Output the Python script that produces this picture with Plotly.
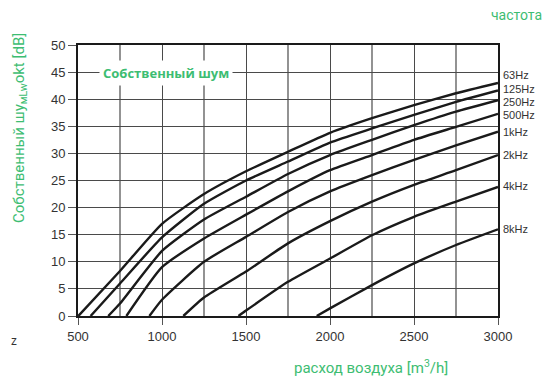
import plotly.graph_objects as go

# data: airflow [m3/h] vs own noise [dB] per octave band
bands = ["63Hz", "125Hz", "250Hz", "500Hz", "1kHz", "2kHz", "4kHz", "8kHz"]
x_63 = [502, 750, 1000, 1250, 1500, 1750, 2000, 2250, 2500, 2750, 3000]
y_63 = [0, 8.3, 17.0, 22.5, 26.7, 30.3, 33.8, 36.5, 38.9, 41.1, 43.0]
x_125 = [575, 750, 1000, 1250, 1500, 1750, 2000, 2250, 2500, 2750, 3000]
y_125 = [0, 6.0, 14.5, 20.7, 25.0, 28.5, 32.0, 34.6, 37.1, 39.5, 41.6]
x_250 = [680, 750, 1000, 1250, 1500, 1750, 2000, 2250, 2500, 2750, 3000]
y_250 = [0, 2.3, 12.0, 17.8, 22.0, 26.2, 29.7, 32.5, 35.2, 37.7, 39.8]
x_500 = [788, 1000, 1250, 1500, 1750, 2000, 2250, 2500, 2750, 3000]
y_500 = [0, 9.0, 14.3, 18.7, 23.0, 26.9, 29.7, 32.5, 34.9, 37.3]
x_1k = [925, 1000, 1250, 1500, 1750, 2000, 2250, 2500, 2750, 3000]
y_1k = [0, 3.0, 10.0, 14.6, 19.2, 23.0, 26.0, 28.8, 31.5, 34.0]
x_2k = [1127, 1250, 1500, 1750, 2000, 2250, 2500, 2750, 3000]
y_2k = [0, 3.4, 8.2, 13.4, 17.5, 21.1, 24.2, 26.9, 29.7]
x_4k = [1455, 1500, 1750, 2000, 2250, 2500, 2750, 3000]
y_4k = [0, 1.0, 6.3, 10.6, 14.9, 18.3, 21.1, 23.8]
x_8k = [1921, 2000, 2250, 2500, 2750, 3000]
y_8k = [0, 1.4, 5.7, 9.7, 13.1, 16.0]
label_y = [44.5, 41.9, 39.5, 37.1, 33.9, 29.7, 24.0, 16.1]

x_ticks = [500, 1000, 1500, 2000, 2500, 3000]
x_grid = [750, 1250, 1750, 2250, 2750]
y_ticks = [0, 5, 10, 15, 20, 25, 30, 35, 40, 45, 50]

series = [(x_63, y_63), (x_125, y_125), (x_250, y_250), (x_500, y_500),
          (x_1k, y_1k), (x_2k, y_2k), (x_4k, y_4k), (x_8k, y_8k)]

GREEN = "#3dbd72"
fig = go.Figure()
for name, (xs, ys) in zip(bands, series):
    fig.add_trace(go.Scatter(x=xs, y=ys, mode="lines", name=name,
                             line=dict(color="#1a1a1a", width=2.4, shape="spline", smoothing=0.5),
                             showlegend=False, hoverinfo="skip"))

for name, ly in zip(bands, label_y):
    fig.add_annotation(x=3000, y=ly, xref="x", yref="y", text=name, showarrow=False,
                       xanchor="left", yanchor="middle", xshift=3,
                       font=dict(family="Liberation Sans", size=11, color="#333"))

for xv in x_grid:
    fig.add_shape(type="line", x0=xv, x1=xv, y0=0, y1=50, xref="x", yref="y",
                  line=dict(color="#4a4a4a", width=1.2), layer="below")

fig.add_annotation(x=0.05, y=0.897, xref="paper", yref="paper", text="<b>Собственный шум</b>",
                   showarrow=False, xanchor="left", yanchor="middle", bgcolor="white",
                   borderpad=3, font=dict(family="Open Sans", size=13, color=GREEN))
fig.add_annotation(x=-0.138, y=0.694, xref="paper", yref="paper",
                   text="Собственный шу<sub>мLw</sub>okt [dB]", textangle=-90, showarrow=False,
                   xanchor="center", yanchor="middle",
                   font=dict(family="Roboto", size=15, color=GREEN))
fig.add_annotation(x=0.886, y=-0.145, xref="paper", yref="paper",
                   text="расход воздуха [m<sup>3</sup>/h]", showarrow=False,
                   xanchor="right", yanchor="top",
                   font=dict(family="Roboto", size=15, color=GREEN))
fig.add_annotation(x=1.11, y=1.112, xref="paper", yref="paper", text="частота", showarrow=False,
                   xanchor="right", yanchor="middle",
                   font=dict(family="Roboto", size=14, color=GREEN))
fig.add_annotation(x=-0.164, y=-0.092, xref="paper", yref="paper", text="z", showarrow=False,
                   xanchor="left", yanchor="middle",
                   font=dict(family="Liberation Sans", size=12, color="#333"))

fig.update_layout(
    width=550, height=370,
    margin=dict(l=70, r=60, t=37, b=62),
    paper_bgcolor="white", plot_bgcolor="white",
    font=dict(family="Liberation Sans", size=13, color="#333"),
    xaxis=dict(range=[500, 3000], tickvals=x_ticks, ticks="outside", ticklen=7, tickcolor="#555",
               showgrid=True, gridcolor="#4a4a4a", gridwidth=1.2,
               showline=True, linecolor="#1a1a1a", linewidth=2,
               mirror=True, zeroline=False, tickfont=dict(size=13, color="#333")),
    yaxis=dict(range=[0, 50], tickvals=y_ticks, ticks="outside", ticklen=8, tickcolor="#555",
               showgrid=True, gridcolor="#4a4a4a", gridwidth=1.2, showline=True,
               linecolor="#1a1a1a", linewidth=2, mirror=True, zeroline=False,
               tickfont=dict(size=13, color="#333")),
)

fig.write_html("out.html")
